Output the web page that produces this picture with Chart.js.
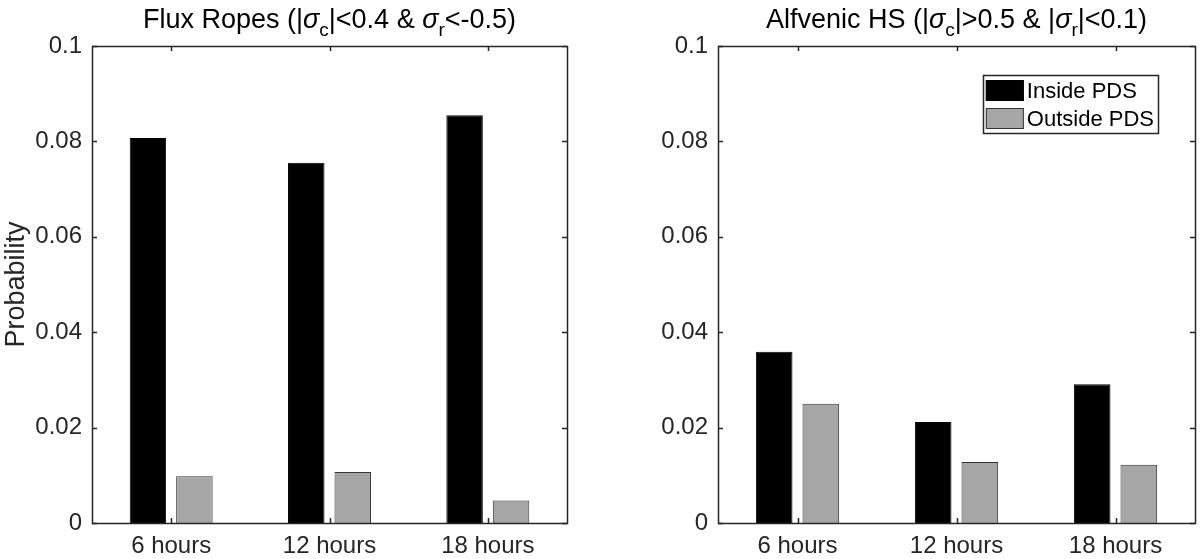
<!DOCTYPE html>
<html>
<head>
<meta charset="utf-8">
<script src="https://cdn.jsdelivr.net/npm/chart.js@4/dist/chart.umd.min.js"></script>
<style>
  html, body { margin: 0; padding: 0; background: #fff; }
  #wrap { position: relative; width: 1200px; height: 559px; overflow: hidden; }
  canvas { position: absolute; top: 0; }
  #c1 { left: 0; }
  #c2 { left: 600px; }
</style>
</head>
<body>
<div id="wrap">
  <canvas id="c1" width="600" height="559"></canvas>
  <canvas id="c2" width="600" height="559"></canvas>
</div>
<script>
// ---- data ----
const categories = ['6 hours', '12 hours', '18 hours'];
const seriesNames = ['Inside PDS', 'Outside PDS'];
const fluxInside = [0.0807, 0.0755, 0.0855];
const fluxOutside = [0.0098, 0.0107, 0.0047];
const alfInside = [0.0359, 0.0212, 0.0291];
const alfOutside = [0.0250, 0.0128, 0.0122];
const yTickValues = [0, 0.02, 0.04, 0.06, 0.08, 0.1];
const yTickLabels = ['0', '0.02', '0.04', '0.06', '0.08', '0.1'];
const yLabel = 'Probability';
const titleLeft = [
  {t: 'Flux Ropes (|'}, {t: '\u03C3', it: true}, {t: 'c', sub: true},
  {t: '|<0.4 & '}, {t: '\u03C3', it: true}, {t: 'r', sub: true}, {t: '<-0.5)'}
];
const titleRight = [
  {t: 'Alfvenic HS (|'}, {t: '\u03C3', it: true}, {t: 'c', sub: true},
  {t: '|>0.5 & |'}, {t: '\u03C3', it: true}, {t: 'r', sub: true}, {t: '|<0.1)'}
];

const FONT = "'Liberation Sans', Arial, Helvetica, sans-serif";
const AXIS_COLOR = '#262626';
const INSIDE_COLOR = '#000000';
const OUTSIDE_COLOR = '#a6a6a6';
const OUTSIDE_EDGE = '#333333';

// ---- plugins ----
const matlabAxes = {
  id: 'matlabAxes',
  afterDraw(chart) {
    const ctx = chart.ctx, a = chart.chartArea;
    const xs = chart.scales.x, ys = chart.scales.y;
    const L = 5;
    ctx.save();
    ctx.strokeStyle = AXIS_COLOR;
    ctx.lineWidth = 1.5;
    ctx.beginPath();
    yTickValues.forEach(v => {
      const y = Math.round(ys.getPixelForValue(v)) + 0.5;
      ctx.moveTo(a.left, y); ctx.lineTo(a.left + L, y);
      ctx.moveTo(a.right, y); ctx.lineTo(a.right - L, y);
    });
    categories.forEach((c, i) => {
      const x = Math.round(xs.getPixelForValue(i)) + 0.5;
      ctx.moveTo(x, a.bottom); ctx.lineTo(x, a.bottom - L);
      ctx.moveTo(x, a.top); ctx.lineTo(x, a.top + L);
    });
    ctx.stroke();
    ctx.strokeRect(Math.round(a.left) + 0.5, Math.round(a.top) + 0.5,
                   Math.round(a.right - a.left), Math.round(a.bottom - a.top));
    ctx.restore();
  }
};

const richTitle = {
  id: 'richTitle',
  afterDraw(chart, args, opts) {
    const segs = opts.segments;
    if (!segs) return;
    const ctx = chart.ctx, a = chart.chartArea;
    const size = opts.size, subSize = Math.round(size * 0.72);
    const fontFor = s => (s.it ? 'italic ' : '') + (s.sub ? subSize : size) + 'px ' + FONT;
    ctx.save();
    let total = 0;
    segs.forEach(s => { ctx.font = fontFor(s); s.w = ctx.measureText(s.t).width; total += s.w; });
    let x = (a.left + a.right) / 2 - total / 2;
    ctx.fillStyle = '#000';
    ctx.textBaseline = 'alphabetic';
    ctx.textAlign = 'left';
    segs.forEach(s => {
      ctx.font = fontFor(s);
      ctx.fillText(s.t, x, opts.baseline + (s.sub ? size * 0.3 : 0));
      x += s.w;
    });
    ctx.restore();
  }
};

const boxLegend = {
  id: 'boxLegend',
  afterDraw(chart, args, opts) {
    if (!opts.show) return;
    const ctx = chart.ctx, a = chart.chartArea;
    const ds = chart.data.datasets;
    const fs = 22;
    ctx.save();
    ctx.font = fs + 'px ' + FONT;
    let maxW = 0;
    ds.forEach(d => { maxW = Math.max(maxW, ctx.measureText(d.label).width); });
    const sw = 38, sh = 21, pad = 3, gap = 3, rowH = 28;
    const boxW = pad + sw + gap + maxW + 4;
    const boxH = ds.length * rowH + 2;
    const x0 = a.right - opts.rightInset - boxW;
    const y0 = a.top + opts.topInset;
    ctx.fillStyle = '#fff';
    ctx.fillRect(x0, y0, boxW, boxH);
    ctx.strokeStyle = AXIS_COLOR;
    ctx.lineWidth = 1.5;
    ctx.strokeRect(Math.round(x0) + 0.5, Math.round(y0) + 0.5, Math.round(boxW), Math.round(boxH));
    ds.forEach((d, i) => {
      const ry = y0 + 5 + i * rowH;
      ctx.fillStyle = d.backgroundColor;
      ctx.fillRect(x0 + pad, ry, sw, sh);
      ctx.strokeStyle = d.borderColor;
      ctx.lineWidth = 1;
      ctx.strokeRect(x0 + pad + 0.5, ry + 0.5, sw - 1, sh - 1);
      ctx.fillStyle = '#000';
      ctx.textBaseline = 'middle';
      ctx.textAlign = 'left';
      ctx.fillText(d.label, x0 + pad + sw + gap, ry + sh / 2 + 1);
    });
    ctx.restore();
  }
};

function makeChart(id, inside, outside, title, opts) {
  return new Chart(document.getElementById(id), {
    type: 'bar',
    data: {
      labels: categories,
      datasets: [
        { label: seriesNames[0], data: inside, backgroundColor: INSIDE_COLOR, borderColor: '#000', borderWidth: 1 },
        { label: seriesNames[1], data: outside, backgroundColor: OUTSIDE_COLOR, borderColor: OUTSIDE_EDGE, borderWidth: 1 }
      ]
    },
    options: {
      responsive: false,
      animation: false,
      events: [],
      layout: { padding: { top: 46, bottom: 0, left: 0, right: opts.padRight } },
      datasets: { bar: { categoryPercentage: 0.587, barPercentage: 0.785 } },
      scales: {
        x: {
          grid: { display: false, drawTicks: false },
          border: { display: false },
          ticks: { color: AXIS_COLOR, font: { family: FONT, size: 24 }, padding: 9, maxRotation: 0 },
          afterFit(s) { s.height = 36; }
        },
        y: {
          min: 0, max: 0.1,
          grid: { display: false, drawTicks: false },
          border: { display: false },
          afterBuildTicks(s) { s.ticks = yTickValues.map(v => ({ value: v })); },
          ticks: {
            color: AXIS_COLOR, font: { family: FONT, size: 24 }, padding: 10,
            callback: (v, i) => yTickLabels[i]
          },
          title: {
            display: opts.showYTitle, text: yLabel, color: AXIS_COLOR,
            font: { family: FONT, size: 27 }, padding: { top: 0, bottom: 0 }
          },
          afterFit(s) { s.width = opts.yWidth; }
        }
      },
      plugins: {
        legend: { display: false },
        tooltip: { enabled: false },
        title: { display: false },
        richTitle: { segments: title, size: 27, baseline: 28 },
        boxLegend: { show: opts.legend, rightInset: 37, topInset: 29 }
      }
    },
    plugins: [matlabAxes, richTitle, boxLegend]
  });
}

makeChart('c1', fluxInside, fluxOutside, titleLeft, { padRight: 33, yWidth: 92, showYTitle: true, legend: false });
makeChart('c2', alfInside, alfOutside, titleRight, { padRight: 5, yWidth: 118, showYTitle: false, legend: true });
</script>
</body>
</html>
